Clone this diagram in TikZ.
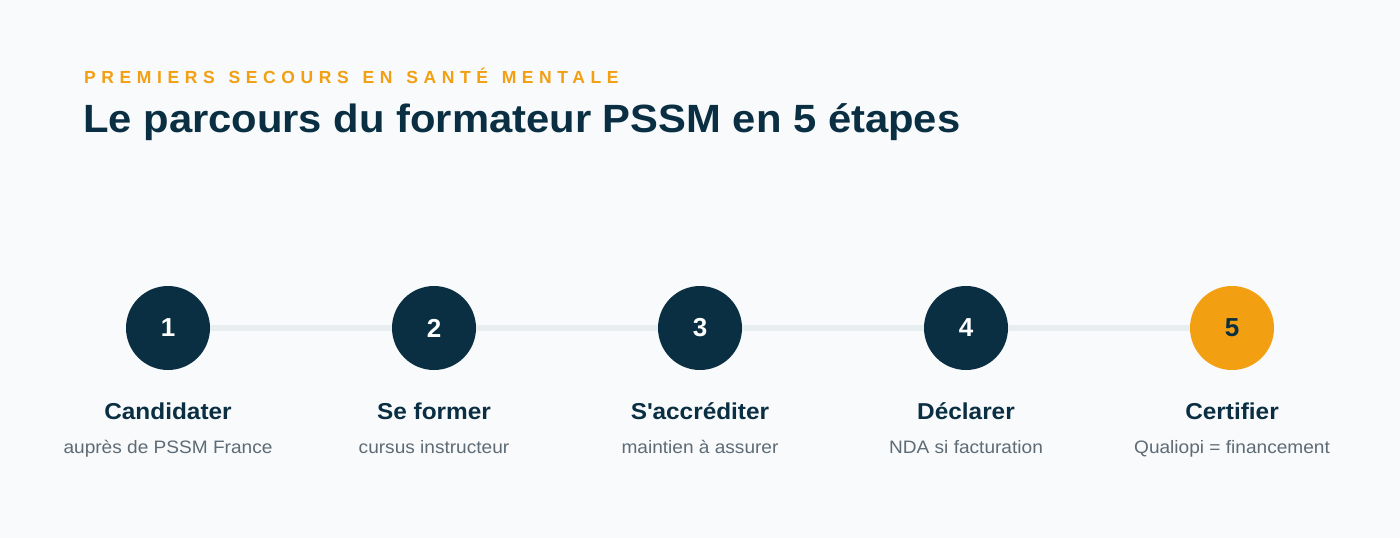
\documentclass[tikz,border=0pt]{standalone}
\usepackage{fontspec}
\setmainfont{Liberation Sans}
\newfontfamily\kicker[LetterSpace=32,WordSpace=1.32]{Liberation Sans}
\newfontfamily\wide[FakeStretch=1.06]{Liberation Sans}
\definecolor{bg}{HTML}{F8FAFC}
\definecolor{navy}{HTML}{0A2F42}
\definecolor{orange}{HTML}{F2A012}
\definecolor{track}{HTML}{E6EEEF}
\definecolor{sub}{HTML}{5E6B74}
\tikzset{
  stepcirc/.style={circle, fill=navy, minimum size=84pt, inner sep=0pt, text=white, font=\fontsize{26}{26}\selectfont\bfseries},
  lastcirc/.style={stepcirc, fill=orange, text=navy},
  steptitle/.style={anchor=base, text=navy, font=\wide\fontsize{23}{23}\selectfont\bfseries},
  stepsub/.style={anchor=base, text=sub, font=\wide\fontsize{18}{18}\selectfont},
}
\begin{document}
\begin{tikzpicture}[x=1pt,y=-1pt]
\fill[bg] (0,0) rectangle (1400,538);
\useasboundingbox (0,0) rectangle (1400,538);
\node[anchor=base west, inner sep=0pt, text=orange, font=\kicker\fontsize{17.5}{17.5}\selectfont\bfseries] (kick) at (84,83) {PREMIERS SECOURS EN SANTÉ MENTALE};
\node[anchor=base west, inner sep=0pt, text=navy, font=\wide\fontsize{39.4}{39.4}\selectfont\bfseries] (title) at (83,132) {Le parcours du formateur PSSM en 5 étapes};
\coordinate (ls) at (168,328);
\coordinate (le) at (1232,328);
\draw[track, line width=6pt] (ls) -- (le);
\foreach \x/\n/\t/\s in {168/1/Candidater/auprès de PSSM France, 434/2/Se former/cursus instructeur, 700/3/S\textquotesingle accréditer/maintien à assurer, 966/4/Déclarer/NDA si facturation}{
  \node[stepcirc] (c\n) at (\x,328) {\n};
  \node[steptitle] (t\n) at (\x,419) {\t};
  \node[stepsub] (s\n) at (\x,453) {\s};
}
\node[lastcirc] (c5) at (1232,328) {5};
\node[steptitle] (t5) at (1232,419) {Certifier};
\node[stepsub] (s5) at (1232,453) {Qualiopi = financement};
\end{tikzpicture}
\end{document}
